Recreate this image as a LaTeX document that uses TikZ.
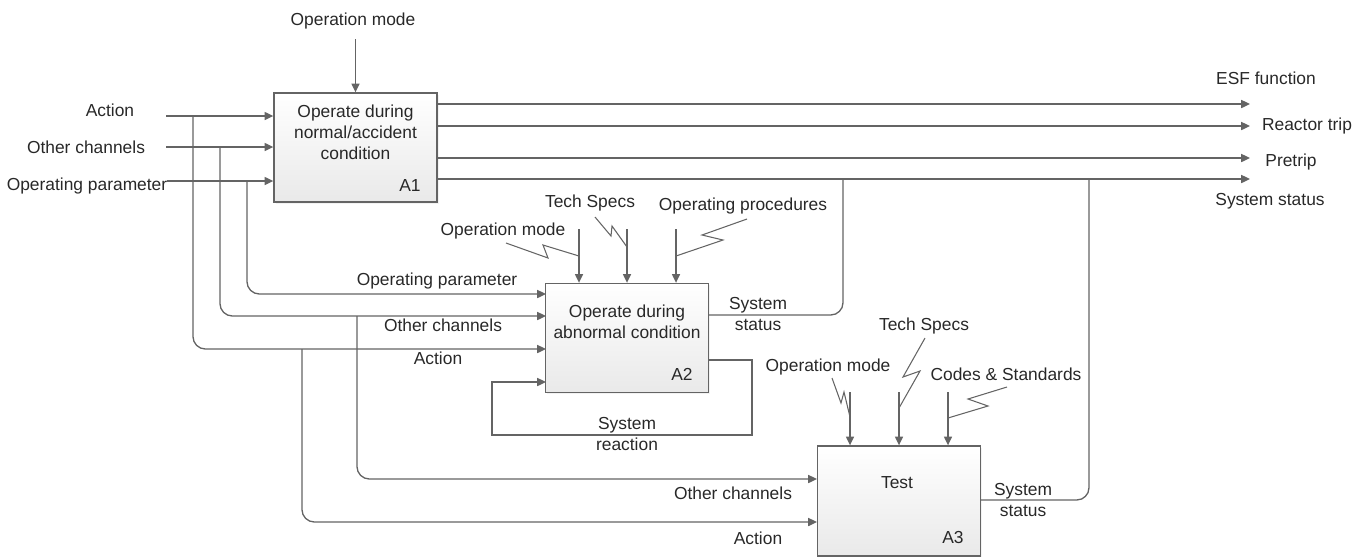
\documentclass[tikz,border=0pt]{standalone}
\usepackage{fontspec}
\setmainfont{Liberation Sans}
\usetikzlibrary{arrows.meta,calc,positioning,shadows}
\definecolor{linie}{RGB}{100,100,100}
\definecolor{schrift}{RGB}{40,40,40}
\definecolor{kasten}{RGB}{233,233,233}

\tikzset{
  fn/.style={draw=linie, line width=0.8pt, minimum width=3.26cm, minimum height=2.18cm,
    top color=white, bottom color=kasten, inner sep=0pt,
    drop shadow={opacity=0.1, shadow xshift=1pt, shadow yshift=-1pt}},
  lbl/.style={text=schrift, font=\fontsize{9.9}{11.9}\selectfont, inner sep=0pt, align=center},
  flow/.style={draw=linie, line width=0.75pt},
  arr/.style={flow, -{Triangle[length=5pt,width=4.6pt]}},
  squig/.style={flow, line width=0.6pt},
}

\begin{document}
\begin{tikzpicture}[x=0.02cm, y=-0.02cm]
    \useasboundingbox (0,0) rectangle (1371,556);

    % function boxes
    \node[fn] (A1) at (355.5,147.5) {};
    \node[fn] (A2) at (627,338) {};
    \node[fn, minimum height=2.2cm] (A3) at (899,501) {};

    \node[lbl] (A1t) at (355.5,132) {Operate during\\normal/accident\\condition};
    \node[lbl] (A2t) at (627,322) {Operate during\\abnormal condition};
    \node[lbl] (A3t) at (897,483) {Test};
    \node[lbl] (A1n) at (410,186) {A1};
    \node[lbl] (A2n) at (682,374) {A2};
    \node[lbl] (A3n) at (953,537) {A3};

    % A1
    \node[lbl] (om1) at (353,21) {Operation mode};
    \draw[arr] (A1.north) ++(0,-53) -- (A1.north);

    \node[lbl] (act) at (110,110) {Action};
    \node[lbl] (oth) at (86,147) {Other channels};
    \node[lbl] (par) at (87,186) {Operating parameter};
    \coordinate (inA) at (166,116);
    \coordinate (inO) at (166,147);
    \coordinate (inP) at (167,181);
    \draw[arr] (inA) -- (inA -| A1.west);
    \draw[arr] (inO) -- (inO -| A1.west);
    \draw[arr] (inP) -- (inP -| A1.west);

    \coordinate (o1) at (1250,104);
    \coordinate (o2) at (1250,126);
    \coordinate (o3) at (1250,158);
    \coordinate (o4) at (1250,179);
    \draw[arr] (o1 -| A1.east) -- (o1);
    \draw[arr] (o2 -| A1.east) -- (o2);
    \draw[arr] (o3 -| A1.east) -- (o3);
    \draw[arr] (o4 -| A1.east) -- (o4);
    \node[lbl] (esf) at (1266,78) {ESF function};
    \node[lbl] (trip) at (1307,126) {Reactor trip};
    \node[lbl] (pre) at (1291,162) {Pretrip};
    \node[lbl] (st1) at (1270,201) {System status};

    % A2
    \coordinate (jA) at (193,116);
    \coordinate (jO) at (220,147);
    \coordinate (jP) at (247,181);
    \coordinate (A2p) at (546,294);
    \coordinate (A2o) at (546,316);
    \coordinate (A2a) at (546,349);
    \coordinate (A2r) at (546,382);
    \draw[arr, rounded corners=7pt] (jP) |- (A2p);
    \draw[arr, rounded corners=7pt] (jO) |- (A2o);
    \draw[arr, rounded corners=7pt] (jA) |- (A2a);
    \node[lbl] (parA2) at (437,281) {Operating parameter};
    \node[lbl] (othA2) at (443,325) {Other channels};
    \node[lbl] (actA2) at (438,358) {Action};

    \coordinate (m2) at (579,229);
    \coordinate (t2) at (627,229);
    \coordinate (p2) at (676,229);
    \draw[arr] (m2) -- (m2 |- A2.north);
    \draw[arr] (t2) -- (t2 |- A2.north);
    \draw[arr] (p2) -- (p2 |- A2.north);
    \node[lbl] (om2) at (503,231) {Operation mode};
    \node[lbl] (ts2) at (590,203) {Tech Specs};
    \node[lbl] (op2) at (743,206) {Operating procedures};
    \draw[squig] (506,243) -- (548,258) -- (543,245) -- (579,256);
    \draw[squig] (595,217) -- (611,236) -- (612,226) -- (627,247);
    \draw[squig] (747,219) -- (702,235) -- (723,240) -- (676,256);

    \coordinate (A2s) at (708,315);
    \coordinate (s2) at (843,179);
    \draw[flow, rounded corners=7pt] (A2s) -| (s2);
    \node[lbl] (st2) at (758,314) {System\\status};

    \coordinate (A2f) at (708,360);
    \coordinate (fb1) at (752,435);
    \coordinate (fb2) at (492,435);
    \draw[arr] (A2f) -| (fb1) -- (fb2) |- (A2r);
    \node[lbl] (sr) at (627,434) {System\\reaction};

    % A3
    \coordinate (kO) at (357,316);
    \coordinate (kA) at (302,349);
    \coordinate (A3o) at (817,479);
    \coordinate (A3a) at (817,522);
    \draw[arr, rounded corners=7pt] (kO) |- (A3o);
    \draw[arr, rounded corners=7pt] (kA) |- (A3a);
    \node[lbl] (othA3) at (733,493) {Other channels};
    \node[lbl] (actA3) at (758,538) {Action};

    \coordinate (m3) at (850,392);
    \coordinate (t3) at (899,392);
    \coordinate (c3) at (948,392);
    \draw[arr] (m3) -- (m3 |- A3.north);
    \draw[arr] (t3) -- (t3 |- A3.north);
    \draw[arr] (c3) -- (c3 |- A3.north);
    \node[lbl] (om3) at (828,367) {Operation mode};
    \node[lbl] (ts3) at (924,326) {Tech Specs};
    \node[lbl] (cs3) at (1006,374) {Codes \& Standards};
    \draw[squig] (832,378) -- (841,403) -- (844,392) -- (850,417);
    \draw[squig] (925,338) -- (903,377) -- (920,371) -- (899,408);
    \draw[squig] (1007,387) -- (968,399) -- (988,406) -- (948,418);

    \coordinate (A3s) at (981,500);
    \coordinate (s3) at (1089,179);
    \draw[flow, rounded corners=7pt] (A3s) -| (s3);
    \node[lbl] (st3) at (1023,500) {System\\status};

\end{tikzpicture}
\end{document}
